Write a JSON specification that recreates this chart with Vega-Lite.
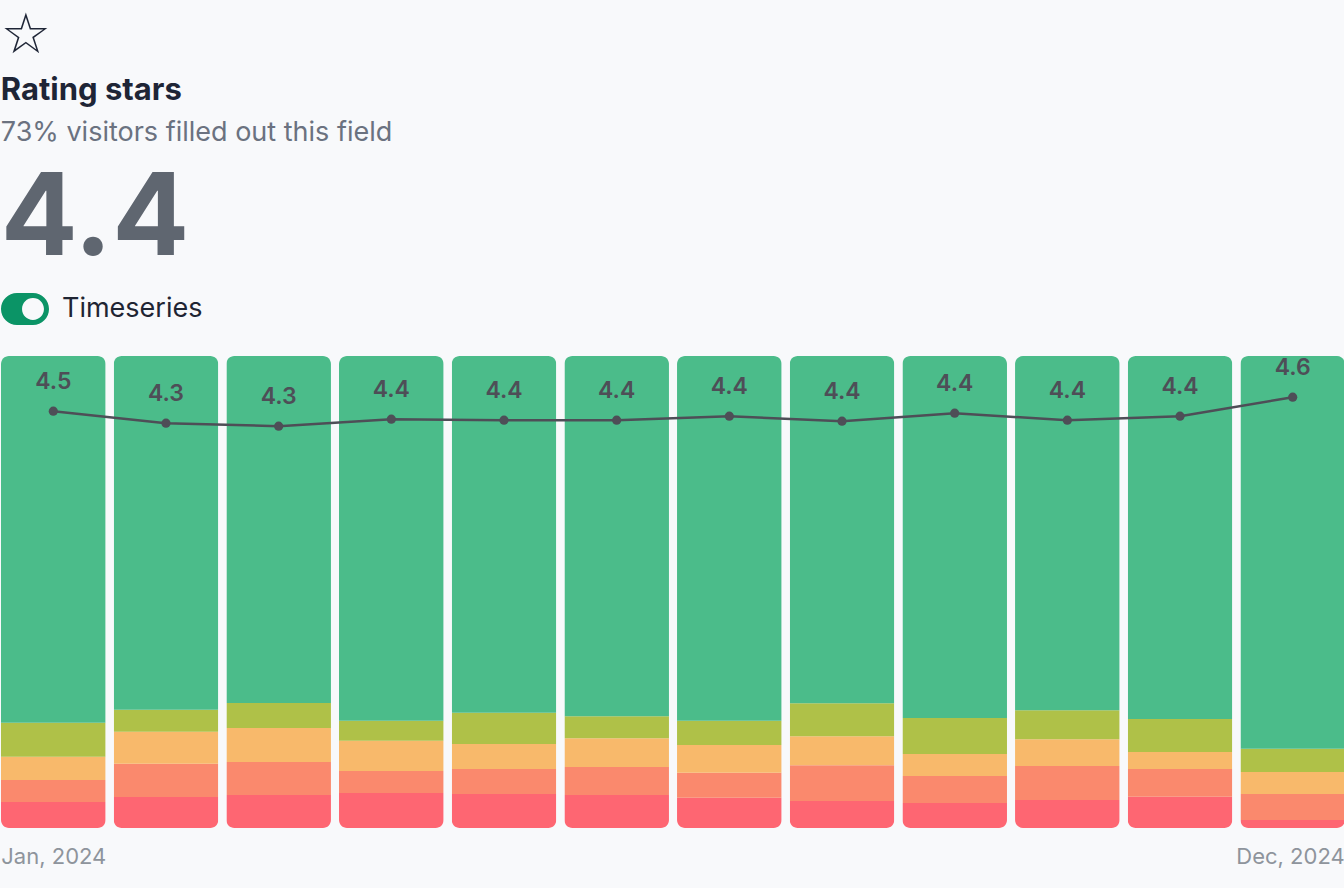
{
  "$schema": "https://vega.github.io/schema/vega-lite/v6.json",
  "background": "#f8f9fb",
  "padding": {"left": 0, "right": 0, "top": 8, "bottom": 24},
  "config": {
    "view": {"stroke": null},
    "font": "Inter",
    "concat": {"spacing": 0}
  },
  "datasets": {
    "dist": [
      {"month": "Jan, 2024", "stars": 1, "pct": 5.5}, {"month": "Jan, 2024", "stars": 2, "pct": 4.7}, {"month": "Jan, 2024", "stars": 3, "pct": 4.9}, {"month": "Jan, 2024", "stars": 4, "pct": 7.2}, {"month": "Jan, 2024", "stars": 5, "pct": 77.8},
      {"month": "Feb, 2024", "stars": 1, "pct": 6.6}, {"month": "Feb, 2024", "stars": 2, "pct": 7.0}, {"month": "Feb, 2024", "stars": 3, "pct": 6.8}, {"month": "Feb, 2024", "stars": 4, "pct": 4.7}, {"month": "Feb, 2024", "stars": 5, "pct": 75.0},
      {"month": "Mar, 2024", "stars": 1, "pct": 7.0}, {"month": "Mar, 2024", "stars": 2, "pct": 7.0}, {"month": "Mar, 2024", "stars": 3, "pct": 7.2}, {"month": "Mar, 2024", "stars": 4, "pct": 5.3}, {"month": "Mar, 2024", "stars": 5, "pct": 73.5},
      {"month": "Apr, 2024", "stars": 1, "pct": 7.4}, {"month": "Apr, 2024", "stars": 2, "pct": 4.7}, {"month": "Apr, 2024", "stars": 3, "pct": 6.4}, {"month": "Apr, 2024", "stars": 4, "pct": 4.2}, {"month": "Apr, 2024", "stars": 5, "pct": 77.3},
      {"month": "May, 2024", "stars": 1, "pct": 7.2}, {"month": "May, 2024", "stars": 2, "pct": 5.3}, {"month": "May, 2024", "stars": 3, "pct": 5.3}, {"month": "May, 2024", "stars": 4, "pct": 6.6}, {"month": "May, 2024", "stars": 5, "pct": 75.6},
      {"month": "Jun, 2024", "stars": 1, "pct": 7.0}, {"month": "Jun, 2024", "stars": 2, "pct": 5.9}, {"month": "Jun, 2024", "stars": 3, "pct": 6.1}, {"month": "Jun, 2024", "stars": 4, "pct": 4.7}, {"month": "Jun, 2024", "stars": 5, "pct": 76.3},
      {"month": "Jul, 2024", "stars": 1, "pct": 6.4}, {"month": "Jul, 2024", "stars": 2, "pct": 5.3}, {"month": "Jul, 2024", "stars": 3, "pct": 5.9}, {"month": "Jul, 2024", "stars": 4, "pct": 5.1}, {"month": "Jul, 2024", "stars": 5, "pct": 77.3},
      {"month": "Aug, 2024", "stars": 1, "pct": 5.7}, {"month": "Aug, 2024", "stars": 2, "pct": 7.6}, {"month": "Aug, 2024", "stars": 3, "pct": 6.1}, {"month": "Aug, 2024", "stars": 4, "pct": 7.0}, {"month": "Aug, 2024", "stars": 5, "pct": 73.5},
      {"month": "Sep, 2024", "stars": 1, "pct": 5.3}, {"month": "Sep, 2024", "stars": 2, "pct": 5.7}, {"month": "Sep, 2024", "stars": 3, "pct": 4.7}, {"month": "Sep, 2024", "stars": 4, "pct": 7.6}, {"month": "Sep, 2024", "stars": 5, "pct": 76.7},
      {"month": "Oct, 2024", "stars": 1, "pct": 5.9}, {"month": "Oct, 2024", "stars": 2, "pct": 7.2}, {"month": "Oct, 2024", "stars": 3, "pct": 5.7}, {"month": "Oct, 2024", "stars": 4, "pct": 6.1}, {"month": "Oct, 2024", "stars": 5, "pct": 75.0},
      {"month": "Nov, 2024", "stars": 1, "pct": 6.6}, {"month": "Nov, 2024", "stars": 2, "pct": 5.9}, {"month": "Nov, 2024", "stars": 3, "pct": 3.6}, {"month": "Nov, 2024", "stars": 4, "pct": 7.0}, {"month": "Nov, 2024", "stars": 5, "pct": 76.9},
      {"month": "Dec, 2024", "stars": 1, "pct": 1.7}, {"month": "Dec, 2024", "stars": 2, "pct": 5.5}, {"month": "Dec, 2024", "stars": 3, "pct": 4.7}, {"month": "Dec, 2024", "stars": 4, "pct": 4.9}, {"month": "Dec, 2024", "stars": 5, "pct": 83.3}
    ],
    "avg": [
      {"month": "Jan, 2024", "avg": 4.46},
      {"month": "Feb, 2024", "avg": 4.34},
      {"month": "Mar, 2024", "avg": 4.31},
      {"month": "Apr, 2024", "avg": 4.38},
      {"month": "May, 2024", "avg": 4.37},
      {"month": "Jun, 2024", "avg": 4.37},
      {"month": "Jul, 2024", "avg": 4.41},
      {"month": "Aug, 2024", "avg": 4.36},
      {"month": "Sep, 2024", "avg": 4.44},
      {"month": "Oct, 2024", "avg": 4.37},
      {"month": "Nov, 2024", "avg": 4.41},
      {"month": "Dec, 2024", "avg": 4.60}
    ]
  },
  "title": {
    "text": "☆",
    "font": "DejaVu Sans",
    "fontSize": 56,
    "fontWeight": "bold",
    "color": "#1e2536",
    "anchor": "start",
    "offset": 10
  },
  "vconcat": [
    {
      "title": {
        "text": "Rating stars",
        "subtitle": "73% visitors filled out this field",
        "font": "Inter",
        "fontSize": 31,
        "fontWeight": 700,
        "color": "#1e2536",
        "subtitleFont": "Inter",
        "subtitleFontSize": 27,
        "subtitleColor": "#6b7280",
        "subtitlePadding": 13,
        "anchor": "start",
        "offset": 17
      },
      "vconcat": [
        {
          "title": {
            "text": "4.4",
            "font": "Inter",
            "fontSize": 114,
            "fontWeight": 700,
            "color": "#5f6670",
            "anchor": "start",
            "offset": 6
          },
          "width": 1344,
          "height": 472,
          "layer": [
            {
              "data": {"name": "dist"},
              "mark": {"type": "bar", "cornerRadius": 8},
              "encoding": {
                "x": {
                  "field": "month",
                  "type": "nominal",
                  "sort": null,
                  "scale": {"paddingInner": 0.0714, "paddingOuter": 0},
                  "axis": {
                    "title": null,
                    "domain": false,
                    "ticks": false,
                    "grid": false,
                    "labelAngle": 0,
                    "values": ["Jan, 2024", "Dec, 2024"],
                    "labelFont": "Inter",
                    "labelFontSize": 22,
                    "labelColor": "#8e949c",
                    "labelPadding": 18,
                    "labelAlign": {"condition": {"test": "datum.value == 'Jan, 2024'", "value": "left"}, "value": "right"},
                    "labelOffset": {"condition": {"test": "datum.value == 'Jan, 2024'", "value": -52}, "value": 52}
                  }
                },
                "y": {
                  "field": "pct",
                  "type": "quantitative",
                  "stack": "normalize",
                  "axis": null
                },
                "color": {
                  "field": "stars",
                  "type": "ordinal",
                  "scale": {"domain": [1, 2, 3, 4, 5], "range": ["#fe6672", "#fa896d", "#f8b96b", "#afc148", "#4bbc8a"]},
                  "legend": null
                },
                "order": {"field": "stars", "type": "quantitative", "sort": "ascending"}
              }
            },
            {
              "data": {"name": "avg"},
              "layer": [
                {
                  "mark": {"type": "line", "strokeWidth": 0},
                  "encoding": {
                    "x": {"field": "month", "type": "nominal", "sort": null},
                    "y": {"field": "avg", "type": "quantitative", "scale": {"domain": [0.292, 5.012], "zero": false, "nice": false}, "axis": null},
                    "color": {
                      "datum": "Timeseries",
                      "scale": {"range": ["#0b9466"]},
                      "legend": {
                        "title": null,
                        "orient": "top",
                        "offset": 30,
                        "padding": 0,
                        "symbolType": "M-0.333,-0.667L0.333,-0.667A0.667,0.667,0,0,1,0.333,0.667L-0.333,0.667A0.667,0.667,0,0,1,-0.333,-0.667ZM0.79,0A0.457,0.457,0,1,0,-0.124,0A0.457,0.457,0,1,0,0.79,0Z",
                        "symbolSize": 2304,
                        "symbolFillColor": "#0b9466",
                        "symbolStrokeWidth": 0,
                        "symbolOpacity": 1,
                        "labelFont": "Inter",
                        "labelFontSize": 27,
                        "labelColor": "#1f2533",
                        "labelOffset": 13
                      }
                    }
                  }
                },
                {
                  "mark": {"type": "line", "strokeWidth": 2.5, "color": "#4e4e57", "point": {"filled": true, "size": 85, "color": "#4e4e57"}},
                  "encoding": {
                    "x": {"field": "month", "type": "nominal", "sort": null},
                    "y": {"field": "avg", "type": "quantitative", "scale": {"domain": [0.292, 5.012], "zero": false, "nice": false}, "axis": null}
                  }
                },
                {
                  "mark": {"type": "text", "dy": -29, "fontSize": 23, "fontWeight": 600, "font": "Inter", "color": "#4e4e57"},
                  "encoding": {
                    "x": {"field": "month", "type": "nominal", "sort": null},
                    "y": {"field": "avg", "type": "quantitative", "scale": {"domain": [0.292, 5.012], "zero": false, "nice": false}, "axis": null},
                    "text": {"field": "avg", "type": "quantitative", "format": ".1f"}
                  }
                }
              ]
            }
          ],
          "resolve": {"scale": {"y": "independent", "color": "independent"}}
        }
      ]
    }
  ]
}
